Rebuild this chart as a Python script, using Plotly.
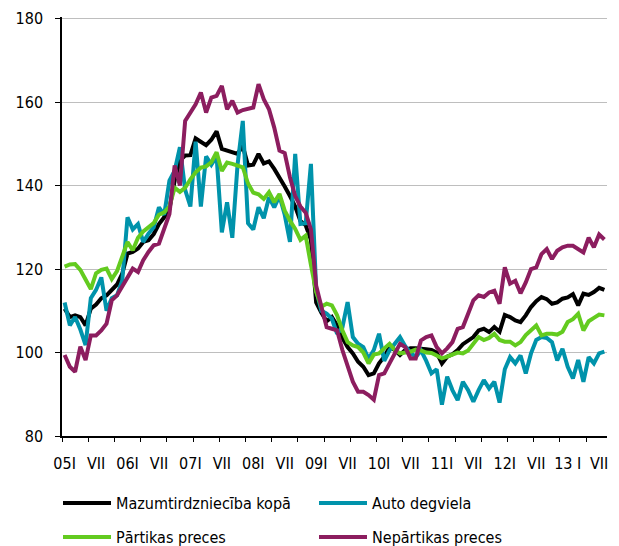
import plotly.graph_objects as go

# monthly indices, Jan 2005 .. Aug 2013
kopa = [110.5, 108.5, 108.9, 108.5, 106.5, 110.5, 111.5, 113.0, 113.7, 114.9, 116.3, 118.9,
        123.7, 124.1, 124.9, 126.5, 126.9, 128.4, 130.8, 132.4, 134.4, 141.2, 146.0, 147.2,
        147.3, 151.3, 150.5, 149.7, 151.0, 153.0, 148.8, 148.4, 148.2, 147.6, 149.5, 144.8,
        145.0, 147.6, 145.3, 145.8, 144.0, 142.0, 139.8, 137.5, 135.0, 131.5, 130.5, 127.0,
        112.0, 109.5, 107.5, 108.5, 106.5, 103.5, 101.3, 99.8, 97.8, 96.6, 94.6, 95.0,
        97.4, 99.0, 101.3, 100.6, 99.4, 100.6, 101.0, 101.0, 101.0, 100.8, 100.6, 100.0,
        97.4, 99.0, 99.6, 100.6, 102.0, 102.8, 103.7, 105.3, 105.7, 104.9, 106.1, 105.0,
        109.0, 108.5, 107.7, 107.3, 108.9, 110.9, 112.3, 113.3, 112.8, 111.7, 112.0, 112.9,
        113.2, 114.0, 111.3, 114.1, 113.8, 114.5, 115.5, 115.0]

degviela = [112.0, 106.5, 108.5, 105.5, 101.8, 113.0, 115.0, 118.0, 110.0, 113.0, 113.7, 117.3,
            132.4, 129.5, 130.8, 126.5, 128.5, 130.0, 134.8, 133.0, 141.2, 143.6, 149.2, 139.0,
            135.0, 150.5, 135.0, 147.0, 145.0, 147.0, 128.8, 136.0, 127.5, 145.0, 155.5, 131.0,
            129.5, 134.8, 132.2, 137.2, 134.8, 137.5, 133.0, 126.5, 147.6, 130.8, 131.0, 145.2,
            115.0, 110.0, 109.3, 108.1, 104.5, 106.0, 112.1, 103.7, 102.1, 101.3, 98.5, 100.6,
            104.5, 98.0, 100.5, 102.0, 103.7, 101.5, 100.0, 98.9, 100.5, 98.0, 95.0, 96.0,
            87.5, 94.2, 91.0, 88.6, 93.0, 91.0, 88.2, 91.0, 93.4, 91.4, 93.0, 88.0,
            96.0, 98.9, 97.4, 99.3, 95.0, 99.8, 103.0, 103.7, 103.5, 102.5, 98.1, 100.9,
            96.6, 93.8, 98.2, 93.0, 98.9, 97.4, 99.8, 100.2]

partika = [120.6, 121.1, 121.2, 119.8, 117.5, 115.2, 119.0, 119.8, 120.1, 117.6, 119.5, 123.0,
           126.5, 124.5, 127.5, 129.0, 130.0, 131.0, 133.0, 133.6, 135.0, 139.5, 138.5, 139.5,
           141.5, 143.2, 144.3, 144.6, 145.6, 148.0, 143.5, 145.5, 145.2, 144.9, 144.4, 140.5,
           138.3, 137.9, 136.8, 138.4, 136.0, 138.0, 134.0, 131.6, 129.6, 127.0, 128.0, 121.0,
           114.5, 111.0, 111.7, 111.3, 108.9, 105.3, 102.5, 101.7, 101.3, 100.0, 97.4, 99.5,
           99.8, 101.0, 102.1, 100.6, 99.8, 100.0, 100.2, 100.7, 100.5, 100.0, 99.9, 99.3,
           98.6, 99.0, 99.5, 100.0, 99.8, 100.5, 102.1, 103.7, 103.0, 103.5, 104.5, 103.0,
           102.6, 102.6, 101.7, 102.5, 104.2, 105.5, 106.5, 104.1, 104.5, 104.5, 104.3, 105.0,
           107.3, 108.0, 109.3, 105.3, 107.5, 108.3, 109.1, 108.9]

nepartika = [99.4, 96.6, 95.4, 101.4, 98.2, 104.1, 104.1, 105.3, 106.9, 112.5, 113.7, 115.7,
             117.7, 120.1, 119.3, 122.1, 124.1, 125.7, 126.1, 130.0, 133.2, 144.8, 140.0, 155.5,
             157.5, 159.5, 162.3, 157.5, 161.1, 161.5, 163.9, 158.3, 160.3, 157.5, 158.1, 158.3,
             158.7, 164.3, 160.7, 158.3, 153.9, 148.4, 147.8, 142.0, 137.5, 135.0, 133.5, 129.5,
             116.0, 111.0, 106.1, 105.7, 105.3, 100.6, 96.6, 93.0, 90.6, 90.6, 89.8, 88.7,
             94.6, 95.0, 97.4, 100.0, 102.1, 101.3, 98.6, 98.6, 102.9, 103.7, 104.1, 101.3,
             99.8, 101.0, 102.5, 105.7, 106.1, 109.3, 112.5, 113.7, 113.3, 114.4, 114.8, 111.7,
             120.4, 116.5, 117.2, 114.2, 116.8, 120.0, 120.4, 123.6, 124.8, 122.4, 124.4, 125.2,
             125.6, 125.6, 124.8, 124.0, 127.5, 125.2, 128.3, 127.1]

tick_labels = ["05I", "VII", "06I", "VII", "07I", "VII", "08I", "VII", "09I", "VII",
               "10I", "VII", "11I", "VII", "12I", "VII", "13 I", "VII"]

months = list(range(len(kopa)))
font = "Liberation Sans Narrow, DejaVu Sans Condensed, Arial Narrow, sans-serif"

# the page body has an 8px margin, so the figure is 8px smaller than the window
W, H = 611, 538
PLOT_W = W - 54 - 12

# name, values, colour, legend id, legend column offset (px), row centre from bottom (px)
series = [
    ("Mazumtirdzniecība kopā", kopa, "#000000", "legend", -4, 43),
    ("Auto degviela", degviela, "#0093AB", "legend2", 252, 43),
    ("Pārtikas preces", partika, "#63CB1F", "legend3", -4, 9),
    ("Nepārtikas preces", nepartika, "#8C1D5F", "legend4", 252, 9),
]

fig = go.Figure()
legends = {}
for name, vals, color, leg, lx, ly in series:
    fig.add_trace(go.Scatter(x=months, y=vals, name=name, mode="lines", showlegend=True,
                             line=dict(color=color, width=4), legend=leg))
    legends[leg] = dict(orientation="h", x=lx / PLOT_W, xanchor="left",
                        y=ly / H, yanchor="middle", yref="container",
                        itemwidth=48, font=dict(family=font, size=16, color="black"),
                        bgcolor="rgba(0,0,0,0)")

fig.update_layout(
    width=W, height=H,
    showlegend=True,
    margin=dict(l=54, r=12, t=9, b=110, autoexpand=False),
    plot_bgcolor="white", paper_bgcolor="white",
    font=dict(family=font, size=16, color="black"),
    **legends,
)

fig.update_xaxes(
    range=[-0.5, len(kopa) - 0.5],
    tickvals=months[::6], ticktext=tick_labels,
    ticks="", ticklabelstandoff=12,
    showline=True, linecolor="black", linewidth=1.5,
    showgrid=False, zeroline=False,
    minor=dict(tickvals=[m - 0.5 for m in months[::5]], ticks="outside",
               ticklen=4, tickcolor="black", showgrid=False),
)

fig.update_yaxes(
    range=[80, 180.4], tickvals=[80, 100, 120, 140, 160, 180],
    ticks="outside", ticklen=5, tickcolor="black", ticklabelstandoff=9,
    ticklabeloverflow="allow",
    showline=True, linecolor="black", linewidth=1.5,
    showgrid=True, gridcolor="#BEBEBE", gridwidth=1, zeroline=False,
)

fig.write_html("out.html")
